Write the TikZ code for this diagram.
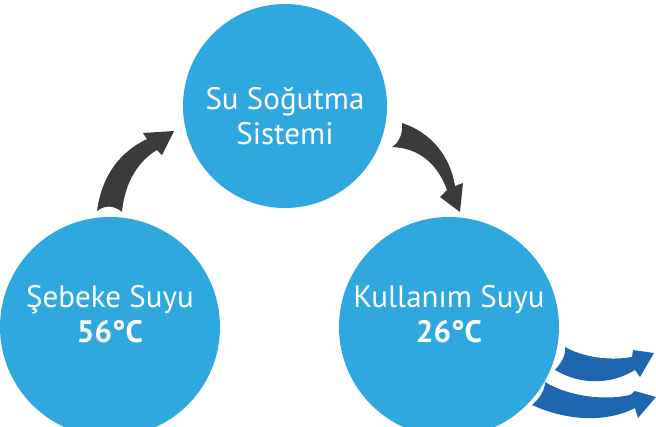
\documentclass[tikz,border=0pt]{standalone}
\usepackage{fontspec}
\setmainfont{PT Sans}
\usepackage{tikz}
\usetikzlibrary{positioning}
\usetikzlibrary{calc}
\definecolor{sublue}{HTML}{2FA8E0}
\definecolor{okgray}{HTML}{3A3B3D}
\definecolor{akisblue}{HTML}{1E66B0}
\tikzset{
	daire/.style={circle, fill=sublue, draw=none, minimum size=220pt, inner sep=0pt},
	yazi/.style={text=white, align=center, font=\fontsize{31}{35}\selectfont},
	okok/.style={fill=okgray, draw=none},
	akis/.style={fill=akisblue, draw=none},
}
\begin{document}
\begin{tikzpicture}[x=1pt, y=-1pt]
	\useasboundingbox (0,0) rectangle (656,426);
	\clip (0,0) rectangle (656,426);
	\node[daire, minimum size=204pt] (sogutma) at (285,106) {};
	\node[daire] (sebeke) at (110,327) {};
	\node[daire] (kullanim) at (449,327) {};
	\node[yazi] (sogutmayazi) at ([yshift=-10pt]sogutma.center) {Su Soğutma\\Sistemi};
	\node[yazi] (sebekeyazi) at ([yshift=13pt]sebeke.center) {Şebeke Suyu\\\textbf{56°C}};
	\node[yazi] (kullanimyazi) at ([yshift=13pt]kullanim.center) {Kullanım Suyu\\\textbf{26°C}};
	% sebeke -> sogutma
	\fill[okok] (97,211) .. controls (102,175) and (120,152) .. (147,139) -- (143,133) -- (174,131)
		-- (162,155) -- (157,150) .. controls (140,160) and (125,180) .. (122,212)
		.. controls (114,205) and (105,205) .. (97,211) -- cycle;
	% sogutma -> kullanim
	\fill[okok] (402,123) .. controls (430,132) and (450,155) .. (455,186) -- (463,183) -- (460,212)
		-- (440,197) -- (447,190) .. controls (438,165) and (420,148) .. (392,147)
		.. controls (400,142) and (403,132) .. (402,123) -- cycle;
	% cikis
	\fill[akis] (565,347) .. controls (583,357) and (608,361) .. (632,357) -- (633,350) -- (654,353)
		-- (640,377) -- (635,370) .. controls (612,384) and (582,386) .. (555,370)
		.. controls (562,362) and (566,355) .. (565,347) -- cycle;
	\fill[akis] (545,382) .. controls (568,396) and (603,401) .. (630,395) -- (635,391) -- (656,397)
		-- (638,418) -- (635,408) .. controls (610,421) and (572,423) .. (532,405)
		.. controls (540,398) and (545,390) .. (545,382) -- cycle;
\end{tikzpicture}
\end{document}
